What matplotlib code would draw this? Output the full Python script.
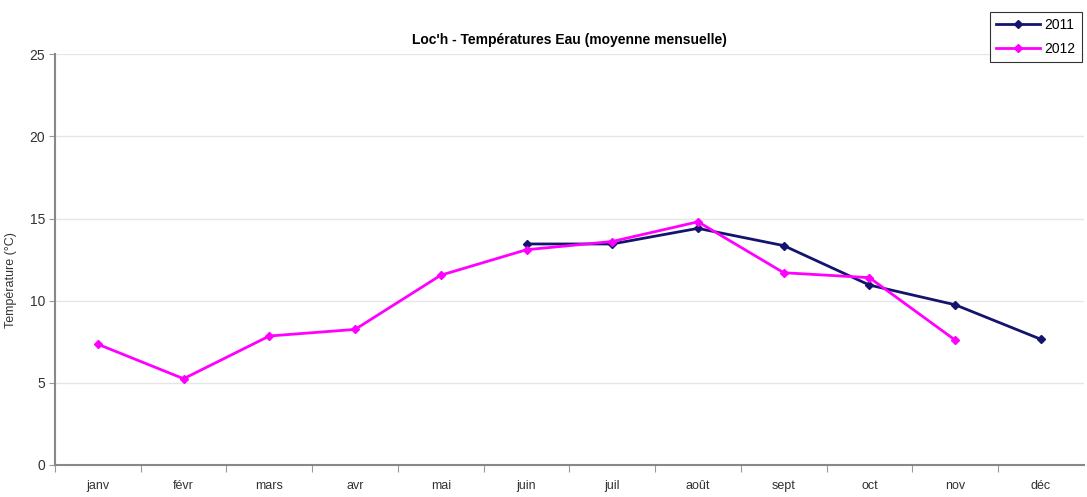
import matplotlib.pyplot as plt
import numpy as np

plt.rcParams['font.family'] = ['Liberation Sans', 'DejaVu Sans']

mois = ['janv', 'févr', 'mars', 'avr', 'mai', 'juin', 'juil', 'août', 'sept', 'oct', 'nov', 'déc']
temp_2011 = [np.nan, np.nan, np.nan, np.nan, np.nan, 13.45, 13.45, 14.4, 13.35, 10.95, 9.75, 7.65]
temp_2012 = [7.35, 5.25, 7.85, 8.25, 11.55, 13.1, 13.6, 14.8, 11.7, 11.4, 7.6, np.nan]

x = np.arange(len(mois))

fig = plt.figure(figsize=(10.87, 4.97), dpi=100)
ax = fig.add_axes([0.0506, 0.0644, 0.9464, 0.8266])

ax.plot(x, temp_2011, color='#14146e', marker='D', markersize=4.5, linewidth=2, label='2011')
ax.plot(x, temp_2012, color='#ff00ff', marker='D', markersize=4.5, linewidth=2, label='2012')

ax.set_ylim(0, 25)
ax.set_xlim(-0.5, 11.5)
ax.set_yticks(range(0, 26, 5))
ax.yaxis.grid(True, color='#e6e6e6', linewidth=1)
ax.set_axisbelow(True)

ax.set_xticks(x - 0.5)
ax.set_xticklabels([])
ax.set_xticks(x, minor=True)
ax.set_xticklabels(mois, minor=True, fontsize=9, color='#333333')
ax.tick_params(axis='x', which='minor', length=0, pad=11)
ax.tick_params(axis='x', which='major', length=5, color='#999999')
ax.tick_params(axis='y', length=4, color='#999999', labelsize=10, labelcolor='#333333', pad=3)

for s in ['top', 'right']:
    ax.spines[s].set_visible(False)
for s in ['left', 'bottom']:
    ax.spines[s].set_color('#888888')
    ax.spines[s].set_linewidth(1.5)

ax.set_ylabel('Température (°C)', fontsize=9, color='#333333')
ax.yaxis.set_label_coords(-0.037, 0.45)
ax.set_title("Loc'h - Températures Eau (moyenne mensuelle)", fontsize=10, fontweight='bold', pad=7)

leg = ax.legend(loc='upper right', bbox_to_anchor=(1.005, 1.12), frameon=True, fancybox=False,
                edgecolor='black', fontsize=10, handlelength=3.2, borderpad=0.45, labelspacing=0.7,
                handletextpad=0.3)
leg.get_frame().set_linewidth(0.8)

fig.savefig('out.png', dpi=100)
